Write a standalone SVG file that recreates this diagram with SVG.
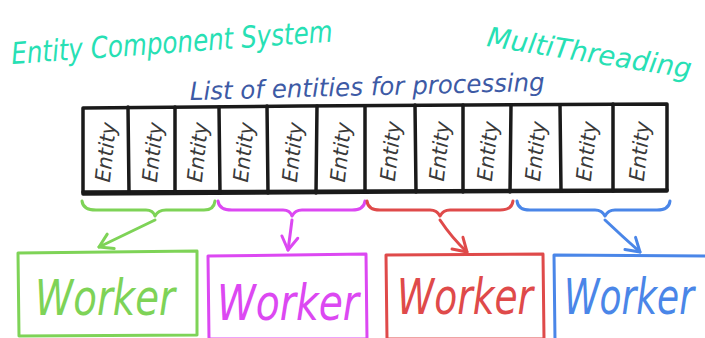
<svg xmlns="http://www.w3.org/2000/svg" width="705" height="338" viewBox="0 0 705 338">
  <style>
    .hand { font-family: "DejaVu Sans", "Liberation Sans", sans-serif; font-weight: 200; font-style: italic; }
    .title { fill: #27e0b4; font-size: 30px; }
    .title-mt { fill: #27e0b4; font-size: 27.5px; }
    .sub { fill: #3d5aa5; font-size: 25px; }
    .ent { fill: #3a3a3a; font-size: 21px; }
    .wk { font-size: 38px; }
    .cell { fill: none; stroke: #1a1a1a; stroke-width: 3.5; stroke-linejoin: round; stroke-linecap: round; }
    .brace { fill: none; stroke-width: 3; stroke-linecap: round; stroke-linejoin: round; }
    .box { fill: none; stroke-width: 3; stroke-linejoin: round; }
    .green { stroke: #7ed357; } .tg { fill: #7ed357; }
    .mag { stroke: #dc48f2; } .tm { fill: #dc48f2; }
    .red { stroke: #df4a4a; } .tr { fill: #df4a4a; }
    .blue { stroke: #4a86e8; } .tb { fill: #4a86e8; }
  </style>
  <defs>
    <marker id="ah-green" markerUnits="userSpaceOnUse" markerWidth="20" markerHeight="20" refX="0" refY="0" viewBox="-14 -10 16 20" orient="auto">
      <path d="M-13,-8 L0,0 L-13,8" fill="none" stroke="#7ed357" stroke-width="3" stroke-linecap="round" stroke-linejoin="round"/>
    </marker>
    <marker id="ah-mag" markerUnits="userSpaceOnUse" markerWidth="20" markerHeight="20" refX="0" refY="0" viewBox="-14 -10 16 20" orient="auto">
      <path d="M-13,-8 L0,0 L-13,8" fill="none" stroke="#dc48f2" stroke-width="3" stroke-linecap="round" stroke-linejoin="round"/>
    </marker>
    <marker id="ah-red" markerUnits="userSpaceOnUse" markerWidth="20" markerHeight="20" refX="0" refY="0" viewBox="-14 -10 16 20" orient="auto">
      <path d="M-13,-8 L0,0 L-13,8" fill="none" stroke="#df4a4a" stroke-width="3" stroke-linecap="round" stroke-linejoin="round"/>
    </marker>
    <marker id="ah-blue" markerUnits="userSpaceOnUse" markerWidth="20" markerHeight="20" refX="0" refY="0" viewBox="-14 -10 16 20" orient="auto">
      <path d="M-13,-8 L0,0 L-13,8" fill="none" stroke="#4a86e8" stroke-width="3" stroke-linecap="round" stroke-linejoin="round"/>
    </marker>
  </defs>
  <rect width="705" height="338" fill="#ffffff"/>

  <!-- headings -->
  <g id="title-ecs">
    <text class="hand title" x="12" y="64" transform="rotate(-4 12 64)" textLength="322" lengthAdjust="spacingAndGlyphs">Entity Component System</text>
  </g>
  <g id="title-mt">
    <text class="hand title-mt" x="486" y="46" transform="rotate(9 486 46)">MultiThreading</text>
  </g>
  <g id="label-list">
    <text class="hand sub" x="190" y="100" transform="rotate(-1.5 190 100)" textLength="355" lengthAdjust="spacingAndGlyphs">List of entities for processing</text>
  </g>

  <!-- entity strip -->
  <g id="entity-list">
    <path class="cell" d="M83,108 L300,106 L667,104 L667,191 L400,192 L83,194 Z"/>
    <path class="cell" d="M83,192 L667,190" stroke-width="5"/>
    <path class="cell" d="M128,107 L129,193 M175,107 L175,193 M219,107 L220,193 M267,106 L268,193 M317,106 L316,193 M365,106 L365,192 M415,105 L416,192 M463,105 L463,192 M511,105 L510,192 M560,105 L561,191 M613,104 L613,191"/>
    <g class="hand ent">
      <text transform="translate(113,153) rotate(-84)" text-anchor="middle" textLength="60" lengthAdjust="spacingAndGlyphs">Entity</text>
      <text transform="translate(160,153) rotate(-84)" text-anchor="middle" textLength="60" lengthAdjust="spacingAndGlyphs">Entity</text>
      <text transform="translate(205,153) rotate(-84)" text-anchor="middle" textLength="60" lengthAdjust="spacingAndGlyphs">Entity</text>
      <text transform="translate(251,153) rotate(-84)" text-anchor="middle" textLength="60" lengthAdjust="spacingAndGlyphs">Entity</text>
      <text transform="translate(300,153) rotate(-84)" text-anchor="middle" textLength="60" lengthAdjust="spacingAndGlyphs">Entity</text>
      <text transform="translate(348,153) rotate(-84)" text-anchor="middle" textLength="60" lengthAdjust="spacingAndGlyphs">Entity</text>
      <text transform="translate(398,152) rotate(-84)" text-anchor="middle" textLength="60" lengthAdjust="spacingAndGlyphs">Entity</text>
      <text transform="translate(447,152) rotate(-84)" text-anchor="middle" textLength="60" lengthAdjust="spacingAndGlyphs">Entity</text>
      <text transform="translate(495,152) rotate(-84)" text-anchor="middle" textLength="60" lengthAdjust="spacingAndGlyphs">Entity</text>
      <text transform="translate(543,152) rotate(-84)" text-anchor="middle" textLength="60" lengthAdjust="spacingAndGlyphs">Entity</text>
      <text transform="translate(594,152) rotate(-84)" text-anchor="middle" textLength="60" lengthAdjust="spacingAndGlyphs">Entity</text>
      <text transform="translate(647,152) rotate(-84)" text-anchor="middle" textLength="60" lengthAdjust="spacingAndGlyphs">Entity</text>
    </g>
  </g>

  <!-- braces and arrows -->
  <g id="connectors">
    <path class="brace green" d="M82,201 Q83,210 96,210 L146,210 Q153,210 155,216 Q158,210 166,210 L204,210 Q214,210 215,201"/>
    <path class="brace green" d="M155,220 Q128,233 99,247" marker-end="url(#ah-green)"/>

    <path class="brace mag" d="M218,201 Q219,210 232,210 L283,210 Q290,210 292,216 Q295,210 302,210 L352,210 Q364,210 365,201"/>
    <path class="brace mag" d="M292,220 Q290,236 288,250" marker-end="url(#ah-mag)"/>

    <path class="brace red" d="M367,201 Q368,210 380,210 L430,210 Q437,210 440,216 Q443,210 450,210 L500,210 Q512,210 513,201"/>
    <path class="brace red" d="M440,220 Q452,238 467,252" marker-end="url(#ah-red)"/>

    <path class="brace blue" d="M517,201 Q518,210 530,210 L595,210 Q602,210 605,216 Q608,210 615,210 L657,210 Q669,210 670,201"/>
    <path class="brace blue" d="M605,220 Q623,237 640,252" marker-end="url(#ah-blue)"/>
  </g>

  <!-- workers: text stretched vertically for tall lettering -->
  <g id="worker-1">
    <path class="box green" d="M18,253 L197,251 L197,335 L19,336 Z"/>
    <text class="hand wk tg" transform="translate(35,315) scale(1,1.3)" textLength="140" lengthAdjust="spacingAndGlyphs">Worker</text>
  </g>
  <g id="worker-2">
    <path class="box mag" d="M208,256 L366,254 L367,339 L209,339 Z"/>
    <text class="hand wk tm" transform="translate(217,320) scale(1,1.3)" textLength="142" lengthAdjust="spacingAndGlyphs">Worker</text>
  </g>
  <g id="worker-3">
    <path class="box red" d="M386,255 L543,254 L544,339 L387,339 Z"/>
    <text class="hand wk tr" transform="translate(397,314) scale(1,1.3)" textLength="136" lengthAdjust="spacingAndGlyphs">Worker</text>
  </g>
  <g id="worker-4">
    <path class="box blue" d="M554,255 L710,256 L710,340 L555,340 Z"/>
    <text class="hand wk tb" transform="translate(564,314) scale(1,1.3)" textLength="130" lengthAdjust="spacingAndGlyphs">Worker</text>
  </g>
</svg>
